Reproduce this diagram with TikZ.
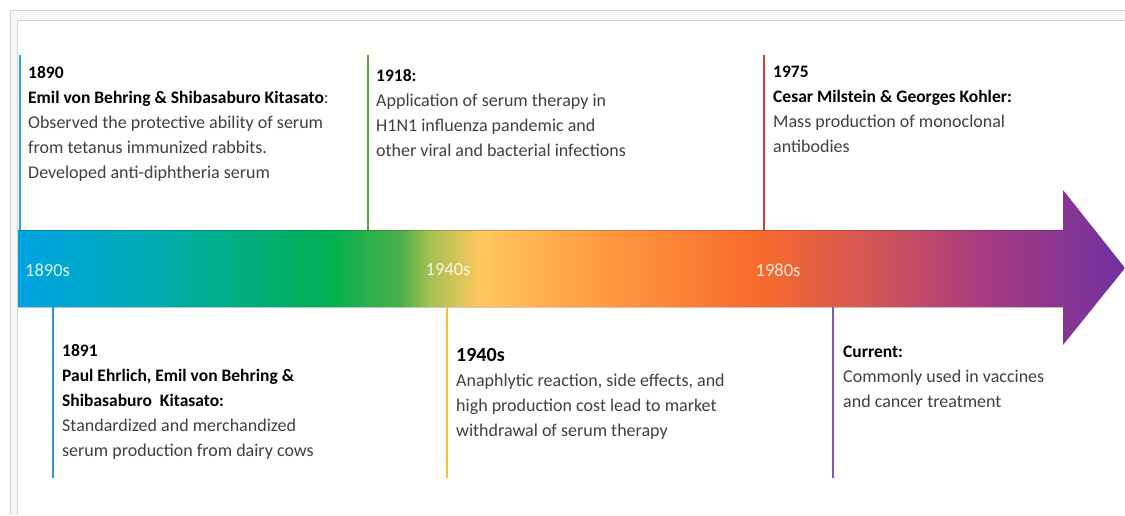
\documentclass[tikz,border=0pt]{standalone}
\usepackage{fontspec}
\setmainfont{Carlito}
\definecolor{cA}{HTML}{00A3E2}
\definecolor{cB}{HTML}{00ADB2}
\definecolor{cC}{HTML}{00B050}
\definecolor{cD}{HTML}{4CB048}
\definecolor{cE}{HTML}{A6C254}
\definecolor{cF}{HTML}{FFC75C}
\definecolor{cG}{HTML}{FF9B40}
\definecolor{cH}{HTML}{F86A2C}
\definecolor{cI}{HTML}{CF5458}
\definecolor{cJ}{HTML}{A83C80}
\definecolor{cK}{HTML}{7030A0}
\definecolor{bodygray}{HTML}{404040}
\definecolor{frame}{HTML}{D2D2D2}
\definecolor{lnA}{HTML}{29A3DA}
\definecolor{lnB}{HTML}{5A9E3C}
\definecolor{lnC}{HTML}{E03434}
\definecolor{lnD}{HTML}{2E8FD2}
\definecolor{lnE}{HTML}{F2C230}
\definecolor{lnF}{HTML}{8058C0}
\pgfdeclarehorizontalshading{timeline}{100bp}{color(0bp)=(cA); color(25bp)=(cA); color(31bp)=(cB); color(39bp)=(cC); color(42.3bp)=(cD); color(43.6bp)=(cE); color(45.9bp)=(cF); color(51.3bp)=(cG); color(58.5bp)=(cH); color(63.9bp)=(cI); color(68.5bp)=(cJ); color(75bp)=(cK); color(100bp)=(cK)}
\tikzset{
  event/.style={anchor=north west, inner sep=0pt, align=left, text=bodygray,
    font=\fontsize{18}{25}\selectfont},
  barlabel/.style={inner sep=0pt, text=white, opacity=0.85, font=\fontsize{18.5}{20}\selectfont},
  tick/.style={line width=1.6pt}
}
\newcommand{\hd}[1]{{\color{black}\bfseries\fontsize{17.5}{25}\selectfont #1}}
\begin{document}
\begin{tikzpicture}[x=1pt,y=-1pt]
\useasboundingbox (0,0) rectangle (1125,515);
\fill[white] (0,0) rectangle (1125,515);
% frame
\fill[gray!6] (10,10) rectangle (1125,20);
\fill[gray!6] (10,10) rectangle (17,515);
\draw[frame, line width=1pt] (10,515) -- (10,10) -- (1125,10);
\draw[frame, line width=1pt] (17,515) -- (17,20) -- (1125,20);
% arrow
\shade[shading=timeline] (18,230) -- (1063,230) -- (1063,190) -- (1125,268) -- (1063,345) -- (1063,307) -- (18,307) -- cycle;
\draw[black, opacity=0.18, line width=0.8pt] (18,230) -- (1063,230) (18,307) -- (1063,307);
% bar labels
\node[barlabel, anchor=west] (l1890) at (25,270) {1890s};
\node[barlabel] (l1940) at (448,270) {1940s};
\node[barlabel] (l1980) at (778,270) {1980s};
% tick coordinates
\coordinate (a1) at (20,55);   \coordinate (a2) at (20,230);
\coordinate (b1) at (368,55);  \coordinate (b2) at (368,230);
\coordinate (c1) at (764,55);  \coordinate (c2) at (764,230);
\coordinate (d1) at (53,307);  \coordinate (d2) at (53,478);
\coordinate (e1) at (447,307); \coordinate (e2) at (447,478);
\coordinate (f1) at (833,307); \coordinate (f2) at (833,478);
\draw[tick, lnA] (a1) -- (a2);
\draw[tick, lnB] (b1) -- (b2);
\draw[tick, lnC] (c1) -- (c2);
\draw[tick, lnD] (d1) -- (d2);
\draw[tick, lnE] (e1) -- (e2);
\draw[tick, lnF] (f1) -- (f2);
% events
\node[event] (e1890) at (28,66) {\hd{1890}\\\hd{Emil von Behring \& Shibasaburo Kitasato}:\\Observed the protective ability of serum\\from tetanus immunized rabbits.\\Developed anti-diphtheria serum};
\node[event] (e1918) at (376,69) {\hd{1918:}\\Application of serum therapy in\\H1N1 influenza pandemic and\\other viral and bacterial infections};
\node[event] (e1975) at (773,66) {\hd{1975}\\\hd{Cesar Milstein \& Georges Kohler:}\\Mass production of monoclonal\\antibodies};
\node[event] (e1891) at (62,344) {\hd{1891}\\\hd{Paul Ehrlich, Emil von Behring \&}\\\hd{Shibasaburo\ \ Kitasato:}\\Standardized and merchandized\\serum production from dairy cows};
\node[event] (e1940) at (456,348) {{\color{black}\bfseries\fontsize{20}{25}\selectfont 1940s}\\Anaphlytic reaction, side effects, and\\high production cost lead to market\\withdrawal of serum therapy};
\node[event] (ecur) at (843,346) {\hd{Current:}\\Commonly used in vaccines\\and cancer treatment};
\end{tikzpicture}
\end{document}
